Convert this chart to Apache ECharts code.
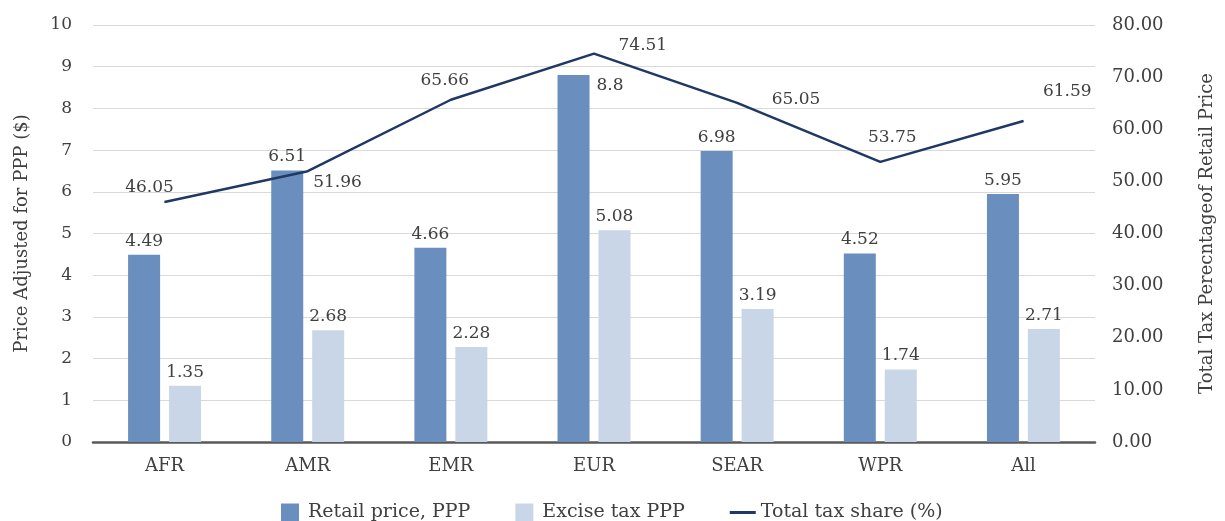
<!DOCTYPE html>
<html>
<head>
<meta charset="utf-8">
<script src="https://cdn.jsdelivr.net/npm/echarts@6/dist/echarts.min.js"></script>
<style>html,body{margin:0;padding:0;background:#fff}#c{width:1225px;height:521px}</style>
</head>
<body>
<div id="c"></div>
<script>
const categories = ['AFR', 'AMR', 'EMR', 'EUR', 'SEAR', 'WPR', 'All'];
const retailPrice = [4.49, 6.51, 4.66, 8.8, 6.98, 4.52, 5.95];
const exciseTax = [1.35, 2.68, 2.28, 5.08, 3.19, 1.74, 2.71];
const taxShare = [46.05, 51.96, 65.66, 74.51, 65.05, 53.75, 61.59];
const leftTicks = { min: 0, max: 10, interval: 1 };
const rightTicks = { min: 0, max: 80, interval: 10 };

const FONT = 'DejaVu Serif';
const TXT = '#404040';

// label placements for the line points (position, offset)
const lineLabelPlace = [
  ['top', [-15, 0]], ['right', [0, 11]], ['top', [-6, -5]], ['right', [19, -8]],
  ['right', [29, -3]], ['top', [12, -10]], ['right', [14, -29]]
];

const chart = echarts.init(document.getElementById('c'));
chart.setOption({
  animation: false,
  textStyle: { fontFamily: FONT, color: TXT },
  grid: { left: 93, right: 130, top: 25, bottom: 79 },
  legend: {
    left: 276, top: 498, itemWidth: 26, itemHeight: 18, itemGap: 45,
    textStyle: { fontFamily: FONT, fontSize: 19, color: TXT },
    data: [
      { name: 'Retail price, PPP', icon: 'path://M0,0h10v10h-10z' },
      { name: 'Excise tax PPP', icon: 'path://M0,0h10v10h-10z' },
      { name: 'Total tax share (%)', icon: 'path://M0,0h26v3h-26z' }
    ]
  },
  xAxis: {
    type: 'category', data: categories,
    axisLine: { lineStyle: { color: '#595959', width: 2.5 } },
    axisTick: { show: false },
    axisLabel: { fontFamily: FONT, fontSize: 18, color: TXT, margin: 15 }
  },
  yAxis: [
    {
      type: 'value', min: leftTicks.min, max: leftTicks.max, interval: leftTicks.interval,
      name: 'Price Adjusted for PPP ($)', nameLocation: 'middle', nameGap: 62, nameRotate: 90,
      nameTextStyle: { fontFamily: FONT, fontSize: 18, color: TXT },
      axisLine: { show: false }, axisTick: { show: false },
      axisLabel: { fontFamily: FONT, fontSize: 17, color: TXT, margin: 21 },
      splitLine: { lineStyle: { color: '#d9d9d9', width: 1.2 } }
    },
    {
      type: 'value', min: rightTicks.min, max: rightTicks.max, interval: rightTicks.interval,
      position: 'right',
      name: 'Total Tax Perecntageof Retail Price', nameLocation: 'middle', nameGap: 103, nameRotate: 90,
      nameTextStyle: { fontFamily: FONT, fontSize: 18, color: TXT },
      axisLine: { show: false }, axisTick: { show: false },
      axisLabel: { fontFamily: FONT, fontSize: 18, color: TXT, margin: 17, formatter: v => v.toFixed(2) },
      splitLine: { show: false }
    }
  ],
  series: [
    {
      name: 'Retail price, PPP', type: 'bar', yAxisIndex: 0, barWidth: 32, barGap: '28%',
      itemStyle: { color: '#6a8ebd' },
      label: { show: true, position: 'top', fontFamily: FONT, fontSize: 17, color: TXT },
      data: retailPrice.map((v, i) => categories[i] === 'EUR'
        ? { value: v, label: { position: ['100%', 0], align: 'left', verticalAlign: 'top', offset: [7, 2] } }
        : v)
    },
    {
      name: 'Excise tax PPP', type: 'bar', yAxisIndex: 0, barWidth: 32,
      itemStyle: { color: '#c9d6e7' },
      label: { show: true, position: 'top', fontFamily: FONT, fontSize: 17, color: TXT },
      data: exciseTax
    },
    {
      name: 'Total tax share (%)', type: 'line', yAxisIndex: 1,
      symbol: 'circle', symbolSize: 1, showSymbol: true, z: 5,
      lineStyle: { color: '#1f3864', width: 2.5 },
      itemStyle: { color: '#1f3864' },
      label: { show: true, fontFamily: FONT, fontSize: 17, color: TXT, formatter: p => p.value.toFixed(2) },
      data: taxShare.map((v, i) => ({
        value: v,
        label: { position: lineLabelPlace[i][0], offset: lineLabelPlace[i][1] }
      }))
    }
  ]
});
</script>
</body>
</html>
